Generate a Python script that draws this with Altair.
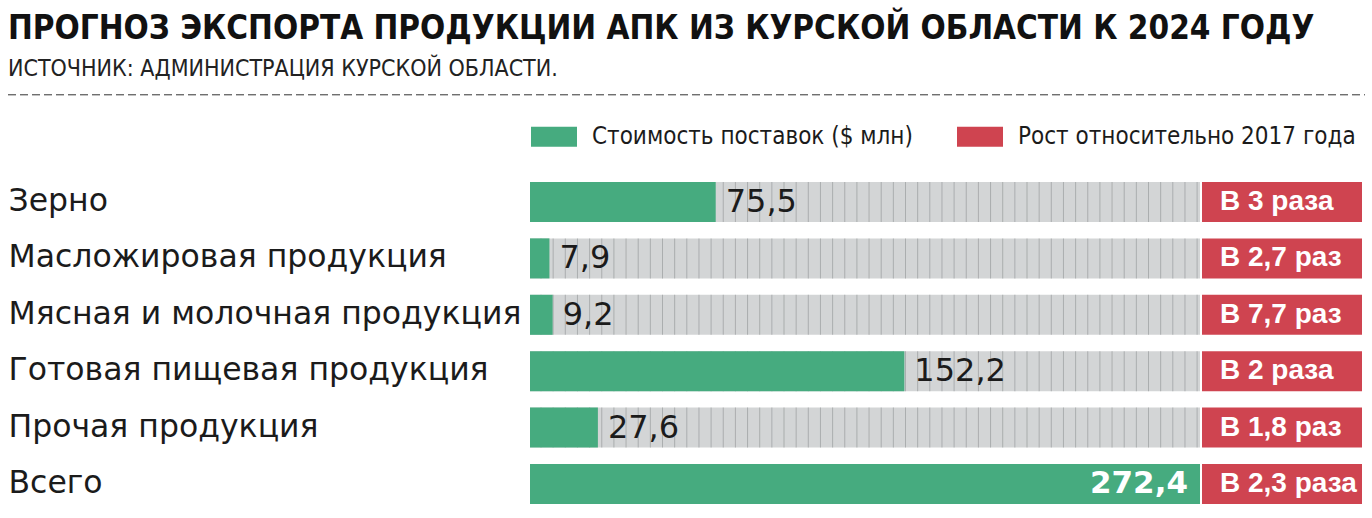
import altair as alt
import pandas as pd
import numpy as np

# ---- data ----
categories = ["Зерно", "Масложировая продукция", "Мясная и молочная продукция",
              "Готовая пищевая продукция", "Прочая продукция", "Всего"]
values = [75.5, 7.9, 9.2, 152.2, 27.6, 272.4]
value_labels = ["75,5", "7,9", "9,2", "152,2", "27,6", "272,4"]
growth = ["В 3 раза", "В 2,7 раз", "В 7,7 раз", "В 2 раза", "В 1,8 раз", "В 2,3 раза"]
series_names = ["Стоимость поставок ($ млн)", "Рост относительно 2017 года"]

TITLE = "ПРОГНОЗ ЭКСПОРТА ПРОДУКЦИИ АПК ИЗ КУРСКОЙ ОБЛАСТИ К 2024 ГОДУ"
SUBTITLE = "ИСТОЧНИК: АДМИНИСТРАЦИЯ КУРСКОЙ ОБЛАСТИ."

# ---- styling ----
GREEN = "#46AB7F"
RED = "#CF4450"
GRAY = "#D3D5D6"
STRIPE = "#9A9C9E"
INK = "#1b1b1b"
NARROW = "'DejaVu Sans Condensed', 'Liberation Sans Narrow', sans-serif"
WIDE = "'DejaVu Sans', sans-serif"
SANS = "'Liberation Sans', Arial, sans-serif"

PLOT_W = 832
BAR_PX = 670
TOTAL = values[-1]
XMAX = TOTAL * PLOT_W / BAR_PX
GAP = 2 * XMAX / PLOT_W

df = pd.DataFrame({"cat": categories, "value": values, "label": value_labels, "growth": growth})
df["zero"] = 0.0
df["total"] = TOTAL
df["box_start"] = TOTAL + GAP
df["box_end"] = XMAX
df["s_green"] = series_names[0]
df["s_red"] = series_names[1]

stripe_step = 12.15 * XMAX / PLOT_W
stripe_pos = np.arange(11 * XMAX / PLOT_W, TOTAL - 1, stripe_step)
stripes = pd.DataFrame([{"cat": c, "x": float(p)} for c in categories for p in stripe_pos])

xs = alt.Scale(domain=[0, XMAX], nice=False, zero=True)
ys = alt.Scale(domain=categories, paddingInner=0.29, paddingOuter=0.145)
yaxis = alt.Axis(title=None, domain=False, ticks=False, labelAlign="left",
                 labelPadding=522, labelFont=WIDE, labelFontSize=31.5,
                 labelColor=INK, labelLimit=600)
Y = alt.Y("cat:N", scale=ys, sort=categories, axis=yaxis)
cscale = alt.Scale(domain=series_names, range=[GREEN, RED])
legend = alt.Legend(orient="none", legendX=1, legendY=-60, direction="horizontal",
                    title=None, symbolType="M-1,-0.435H1V0.435H-1Z", symbolSize=2116,
                    symbolStrokeWidth=0, symbolOpacity=1, labelFont=NARROW,
                    labelFontSize=24, labelColor=INK, labelOffset=15,
                    columnPadding=44, labelLimit=600)

base = alt.Chart(df)

bg = base.mark_bar(color=GRAY).encode(
    x=alt.X("zero:Q", scale=xs, axis=None), x2="total:Q", y=Y)

ticks = alt.Chart(stripes).mark_tick(color=STRIPE, thickness=1, size=40).encode(
    x=alt.X("x:Q", scale=xs, axis=None), y=Y)

green = base.mark_bar().encode(
    x=alt.X("zero:Q", scale=xs, axis=None), x2="value:Q", y=Y,
    color=alt.Color("s_green:N", scale=cscale, legend=legend))

red = base.mark_bar().encode(
    x=alt.X("box_start:Q", scale=xs, axis=None), x2="box_end:Q", y=Y,
    color=alt.Color("s_red:N", scale=cscale, legend=legend))

val_out = base.transform_filter(alt.datum.cat != "Всего").mark_text(
    align="left", dx=10, font=WIDE, fontSize=32, color=INK, baseline="middle").encode(
    x=alt.X("value:Q", scale=xs, axis=None), y=Y, text="label:N")

val_in = base.transform_filter(alt.datum.cat == "Всего").mark_text(
    align="right", dx=-12, font=WIDE, fontSize=31, fontWeight="bold", color="white",
    baseline="middle").encode(
    x=alt.X("value:Q", scale=xs, axis=None), y=Y, text="label:N")

box_txt = base.mark_text(align="left", dx=18, font=SANS, fontSize=28, fontWeight="bold",
                         color="white", baseline="middle").encode(
    x=alt.X("box_start:Q", scale=xs, axis=None), y=Y, text="growth:N")

dash = alt.Chart(alt.Data(values=[{"a": 1}])).mark_rule(
    color="#333333", strokeWidth=1, strokeDash=[8, 4]).encode(
    x=alt.value(-522), x2=alt.value(PLOT_W + 3), y=alt.value(-79))

chart = alt.layer(bg, ticks, green, red, val_out, val_in, box_txt, dash).properties(
    width=PLOT_W, height=338.4,
    background="white",
    padding={"left": 530, "top": 173.8, "right": 10, "bottom": 5.8},
    autosize=alt.AutoSizeParams(type="none"),
    title=alt.TitleParams(text=TITLE, subtitle=SUBTITLE, anchor="start", frame="group",
                          dx=-522, offset=13, font=NARROW, fontSize=33, fontWeight="bold",
                          color="#111111", subtitleFont=NARROW, subtitleFontSize=23,
                          subtitleColor="#222222", subtitlePadding=12),
).configure_view(stroke=None, strokeWidth=0)

chart.save("out.html", embed_options={"renderer": "svg", "actions": False})
